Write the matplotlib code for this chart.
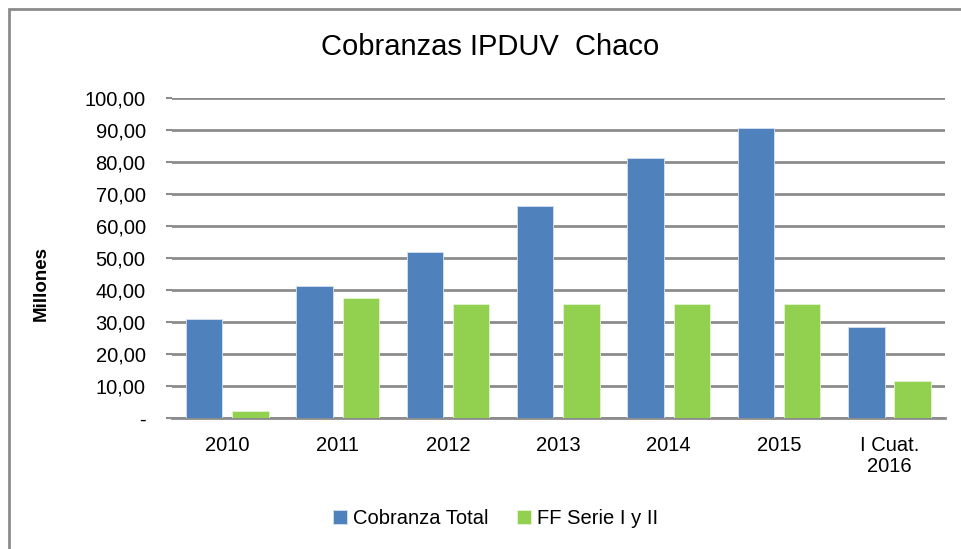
"""
Cobranzas IPDUV Chaco - barras agrupadas
"""
import numpy as np
import matplotlib
matplotlib.use("Agg")
import matplotlib.pyplot as plt
from matplotlib.patches import Rectangle

categorias = ["2010", "2011", "2012", "2013", "2014", "2015", "I Cuat.\n2016"]
cobranza_total = [31.0, 41.3, 51.9, 66.1, 81.3, 90.7, 28.5]
ff_serie = [2.3, 37.4, 35.7, 35.7, 35.7, 35.7, 11.7]
series = ["Cobranza Total", "FF Serie I y II"]
yticks = [0, 10, 20, 30, 40, 50, 60, 70, 80, 90, 100]

AZUL = "#4F81BD"
VERDE = "#92D050"
GRIS = "#8C8C8C"

plt.rcParams["font.family"] = ["Liberation Sans", "DejaVu Sans"]

fig = plt.figure(figsize=(9.61, 5.49), dpi=100)
ax = fig.add_axes([0.179, 0.2386, 0.804, 0.583])

x = np.arange(len(categorias))
ancho = 0.33
ax.bar(x - 0.21, cobranza_total, ancho, color=AZUL, label=series[0],
       edgecolor="#D6E1F0", linewidth=0.6, zorder=3)
ax.bar(x + 0.21, ff_serie, ancho, color=VERDE, label=series[1],
       edgecolor="#E3F3D3", linewidth=0.6, zorder=3)

ax.set_xlim(-0.5, len(categorias) - 0.5)
ax.set_ylim(0, 100)
ax.set_yticks(yticks)
ax.set_yticklabels(["-" if v == 0 else f"{v:.2f}".replace(".", ",") for v in yticks],
                   fontsize=14.5)
ax.set_xticks(x)
ax.set_xticklabels(categorias, fontsize=14.5, linespacing=1.15)
ax.grid(axis="y", color=GRIS, linewidth=2, zorder=0)
ax.tick_params(axis="y", length=4, width=1.5, color=GRIS, pad=15)
ax.tick_params(axis="x", length=0, pad=13)
for lado in ["top", "right", "left"]:
    ax.spines[lado].set_visible(False)
ax.spines["bottom"].set_color(GRIS)
ax.spines["bottom"].set_linewidth(2)

ax.set_ylabel("Millones", fontsize=13.5, fontweight="bold")
ax.yaxis.set_label_coords(-0.158, 0.42)

fig.text(0.51, 0.915, "Cobranzas IPDUV  Chaco", ha="center", va="center",
         fontsize=21)

fig.legend(loc="center", bbox_to_anchor=(0.516, 0.055), ncol=2, frameon=False,
           fontsize=14.5, handlelength=0.7, handleheight=0.7, handletextpad=0.3,
           columnspacing=1.4)

# marco del grafico (solo se ven los bordes superior e izquierdo)
fig.patches.append(Rectangle((9 / 961, -0.1), 1.1, 1 - 9 / 549 + 0.1,
                             transform=fig.transFigure, fill=False,
                             edgecolor=GRIS, linewidth=2))

fig.savefig("out.png", dpi=100)
